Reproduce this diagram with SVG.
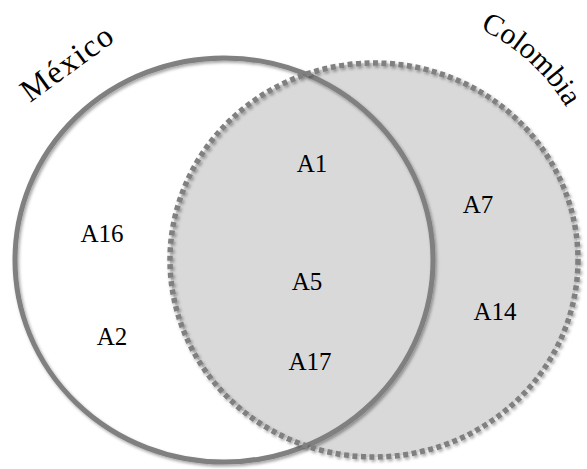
<svg xmlns="http://www.w3.org/2000/svg" xmlns:xlink="http://www.w3.org/1999/xlink" width="587" height="469" viewBox="0 0 587 469">
<style>
.lbl{font-size:25px;fill:#000}
.title{font-size:32px;fill:#000}
.solid{fill:none;stroke:#808080;stroke-width:5}
.dashed{fill:none;stroke:#808080;stroke-width:5.5;stroke-dasharray:5 3.5}
</style>
<defs>
<filter id="sh" x="-10%" y="-10%" width="120%" height="120%">
<feDropShadow dx="1.5" dy="2" stdDeviation="1.5" flood-color="#000" flood-opacity="0.35"/>
</filter>
<path id="pCol" d="M480,29 A200,200 0 0 1 587.5,158"/>
</defs>
<rect width="587" height="469" fill="#fff"/>
<g id="colombia-fill">
<ellipse cx="374" cy="260" rx="204" ry="197" fill="#d9d9d9"/>
</g>
<g id="connectors"></g>
<g font-family="Liberation Serif, Times New Roman, DejaVu Serif, serif">
<g id="mexico">
<ellipse class="solid" cx="224" cy="260" rx="209" ry="202" filter="url(#sh)"/>
<text class="title" x="30" y="103" transform="rotate(-36 30 103)" textLength="106" lengthAdjust="spacing">México</text>
</g>
<g id="colombia">
<ellipse class="dashed" cx="374" cy="260" rx="204" ry="197" filter="url(#sh)"/>
<text class="title" style="font-size:30px"><textPath xlink:href="#pCol" href="#pCol">Colombia</textPath></text>
</g>
<g id="items">
<text class="lbl" x="312" y="172" text-anchor="middle">A1</text>
<text class="lbl" x="102" y="242" text-anchor="middle">A16</text>
<text class="lbl" x="478" y="213" text-anchor="middle">A7</text>
<text class="lbl" x="307" y="290" text-anchor="middle">A5</text>
<text class="lbl" x="495" y="320" text-anchor="middle">A14</text>
<text class="lbl" x="112" y="345" text-anchor="middle">A2</text>
<text class="lbl" x="310" y="370" text-anchor="middle">A17</text>
</g>
</g>
</svg>
